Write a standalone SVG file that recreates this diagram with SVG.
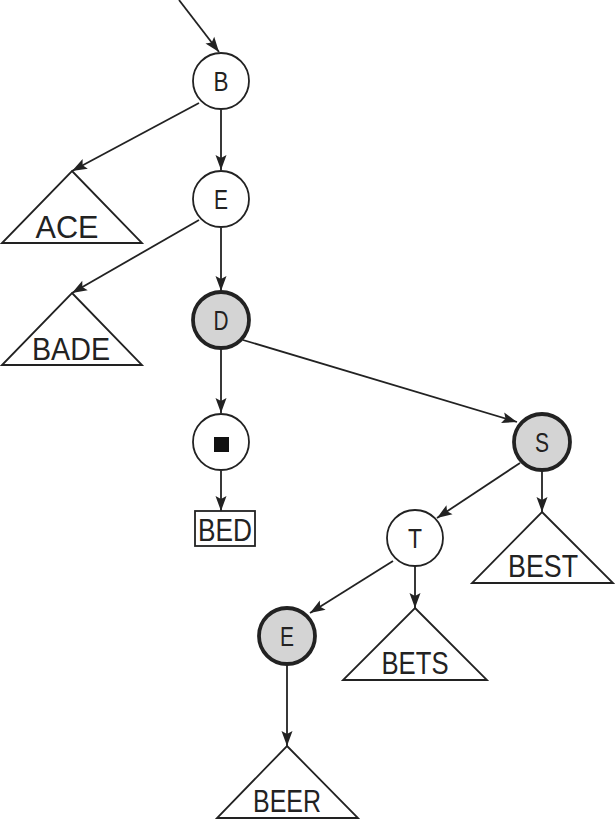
<svg xmlns="http://www.w3.org/2000/svg" width="615" height="820" viewBox="0 0 615 820">
<style>
.edge{stroke:#222;stroke-width:1.8;fill:none;marker-end:url(#arr)}
.node{fill:#fff;stroke:#222;stroke-width:1.8}
.hi{fill:#d4d4d4;stroke:#222;stroke-width:3.8}
.tri{fill:#fff;stroke:#222;stroke-width:1.8}
.lbl{font-family:"Liberation Sans",Arial,sans-serif;font-size:27px;fill:#222;text-anchor:middle}
.big{font-family:"Liberation Sans",Arial,sans-serif;font-size:32px;fill:#222;text-anchor:middle}
</style>
<defs>
<marker id="arr" markerUnits="userSpaceOnUse" markerWidth="18" markerHeight="14" viewBox="-16 -7 18 14" refX="0" refY="0" orient="auto">
<path d="M0,0 L-15,-5.5 L-12,0 L-15,5.5 Z" fill="#222"/>
</marker>
</defs>
<rect width="615" height="820" fill="#fff"/>
<g id="connectors">
<line class="edge" x1="179" y1="0" x2="219" y2="52"/>
<line class="edge" x1="199" y1="103" x2="72" y2="171"/>
<line class="edge" x1="221" y1="110" x2="221" y2="170"/>
<line class="edge" x1="199" y1="220" x2="72" y2="293"/>
<line class="edge" x1="221" y1="228" x2="221" y2="291"/>
<line class="edge" x1="221" y1="349" x2="221" y2="413"/>
<line class="edge" x1="243" y1="340" x2="517" y2="422"/>
<line class="edge" x1="221" y1="471" x2="221" y2="511"/>
<line class="edge" x1="542" y1="471" x2="542" y2="512"/>
<line class="edge" x1="520" y1="463" x2="437" y2="518"/>
<line class="edge" x1="415" y1="566" x2="415" y2="608"/>
<line class="edge" x1="393" y1="561" x2="310" y2="613"/>
<line class="edge" x1="287" y1="665" x2="287" y2="746"/>
</g>
<g id="node-B"><circle class="node" cx="221" cy="81" r="28"/><text class="lbl" x="221" y="91" textLength="15" lengthAdjust="spacingAndGlyphs">B</text></g>
<g id="node-E1"><circle class="node" cx="221" cy="199" r="28"/><text class="lbl" x="221" y="209" textLength="14" lengthAdjust="spacingAndGlyphs">E</text></g>
<g id="node-D"><circle class="hi" cx="221" cy="320" r="28"/><text class="lbl" x="221" y="330" textLength="15" lengthAdjust="spacingAndGlyphs">D</text></g>
<g id="node-end"><circle class="node" cx="221" cy="442" r="28"/><rect x="214" y="437" width="15" height="15" fill="#111"/></g>
<g id="node-S"><circle class="hi" cx="542" cy="442" r="28"/><text class="lbl" x="542" y="452" textLength="14" lengthAdjust="spacingAndGlyphs">S</text></g>
<g id="node-T"><circle class="node" cx="415" cy="538" r="28"/><text class="lbl" x="415" y="548" textLength="14" lengthAdjust="spacingAndGlyphs">T</text></g>
<g id="node-E2"><circle class="hi" cx="287" cy="636" r="28"/><text class="lbl" x="287" y="646" textLength="14" lengthAdjust="spacingAndGlyphs">E</text></g>
<g id="node-ACE"><polygon class="tri" points="72,171 142,243 2,243"/><text class="big" x="67" y="238" textLength="63" lengthAdjust="spacingAndGlyphs">ACE</text></g>
<g id="node-BADE"><polygon class="tri" points="72,293 142,365 2,365"/><text class="big" x="71" y="360" textLength="78" lengthAdjust="spacingAndGlyphs">BADE</text></g>
<g id="node-BED"><rect class="tri" x="195" y="511" width="60" height="35"/><text class="big" x="225" y="541" textLength="54" lengthAdjust="spacingAndGlyphs">BED</text></g>
<g id="node-BEST"><polygon class="tri" points="542,512 613,583 472,583"/><text class="big" x="543" y="577" textLength="70" lengthAdjust="spacingAndGlyphs">BEST</text></g>
<g id="node-BETS"><polygon class="tri" points="415,608 487,680 343,680"/><text class="big" x="415" y="674" textLength="67" lengthAdjust="spacingAndGlyphs">BETS</text></g>
<g id="node-BEER"><polygon class="tri" points="287,746 358,818 217,818"/><text class="big" x="287" y="812" textLength="68" lengthAdjust="spacingAndGlyphs">BEER</text></g>
</svg>
